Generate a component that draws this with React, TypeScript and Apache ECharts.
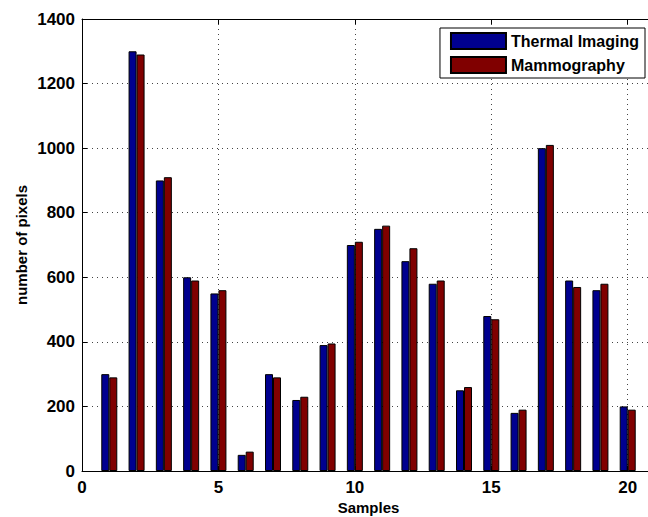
import React, { useEffect, useRef } from "react";
import * as echarts from "echarts";

const samples = [1, 2, 3, 4, 5, 6, 7, 8, 9, 10, 11, 12, 13, 14, 15, 16, 17, 18, 19, 20];
const thermal = [300, 1300, 900, 600, 550, 50, 300, 220, 390, 700, 750, 650, 580, 250, 480, 180, 1000, 590, 560, 200];
const mammo = [290, 1290, 910, 590, 560, 60, 290, 230, 395, 710, 760, 690, 590, 260, 470, 190, 1010, 570, 580, 190];
const seriesNames = ["Thermal Imaging", "Mammography"];

const FONT = "'Liberation Sans', Arial, Helvetica, sans-serif";

export default function App() {
  const ref = useRef<HTMLDivElement>(null);
  useEffect(() => {
    if (!ref.current) return;
    const chart = echarts.init(ref.current, null, { renderer: "svg" });
    const grid = { color: "#444", type: [1, 4] as number[], width: 1 };
    chart.setOption({
      animation: false,
      backgroundColor: "#fff",
      textStyle: { fontFamily: FONT },
      grid: { left: 82, top: 19, bottom: 46, right: -7, outerBoundsMode: "none", containLabel: false },
      legend: {
        top: 28,
        right: 3,
        orient: "vertical",
        icon: "rect",
        itemWidth: 55,
        itemHeight: 16,
        itemGap: 6,
        padding: [4, 6, 4, 10],
        borderColor: "#000",
        borderWidth: 1,
        backgroundColor: "#fff",
        textStyle: { fontFamily: FONT, fontWeight: "bold", fontSize: 16, color: "#000" },
        data: seriesNames,
      },
      xAxis: [
        {
          type: "value",
          min: 0,
          max: 21,
          interval: 5,
          name: "Samples",
          nameLocation: "middle",
          nameGap: 29,
          nameMoveOverlap: false,
          nameTextStyle: { fontFamily: FONT, fontWeight: "bold", fontSize: 15, color: "#000" },
          axisLine: { lineStyle: { color: "#000", width: 1 } },
          axisTick: { inside: true, length: 5, lineStyle: { color: "#000" } },
          axisLabel: { fontFamily: FONT, fontWeight: "bold", fontSize: 17, color: "#000", margin: 8, showMaxLabel: false },
          splitLine: { show: true, lineStyle: grid },
        },
        {
          type: "value",
          position: "top",
          min: 0,
          max: 21,
          interval: 5,
          axisLine: { show: true, lineStyle: { color: "#000", width: 1 } },
          axisTick: { show: true, inside: true, length: 5, lineStyle: { color: "#000" } },
          axisLabel: { show: false },
          splitLine: { show: false },
        },
      ],
      yAxis: {
        type: "value",
        min: 0,
        max: 1400,
        interval: 200,
        name: "number of pixels",
        nameLocation: "middle",
        nameGap: 53,
        nameMoveOverlap: false,
        nameTextStyle: { fontFamily: FONT, fontWeight: "bold", fontSize: 15, color: "#000" },
        axisLine: { show: true, lineStyle: { color: "#000", width: 1 } },
        axisTick: { show: true, inside: true, length: 5, lineStyle: { color: "#000" } },
        axisLabel: { fontFamily: FONT, fontWeight: "bold", fontSize: 17, color: "#000", margin: 7, formatter: (v: number) => String(v) },
        splitLine: { show: true, lineStyle: grid },
      },
      series: [
        {
          name: seriesNames[0],
          type: "bar",
          barWidth: 8,
          barGap: "0%",
          data: samples.map((s, i) => [s, thermal[i]]),
          itemStyle: { color: "#00008F", borderColor: "#000", borderWidth: 1 },
        },
        {
          name: seriesNames[1],
          type: "bar",
          barWidth: 8,
          barGap: "0%",
          data: samples.map((s, i) => [s, mammo[i]]),
          itemStyle: { color: "#800000", borderColor: "#000", borderWidth: 1 },
        },
      ],
    });
    return () => chart.dispose();
  }, []);
  return (
    <div
      ref={ref}
      style={{ position: "absolute", left: 0, top: 0, width: 648, height: 517 }}
    />
  );
}
